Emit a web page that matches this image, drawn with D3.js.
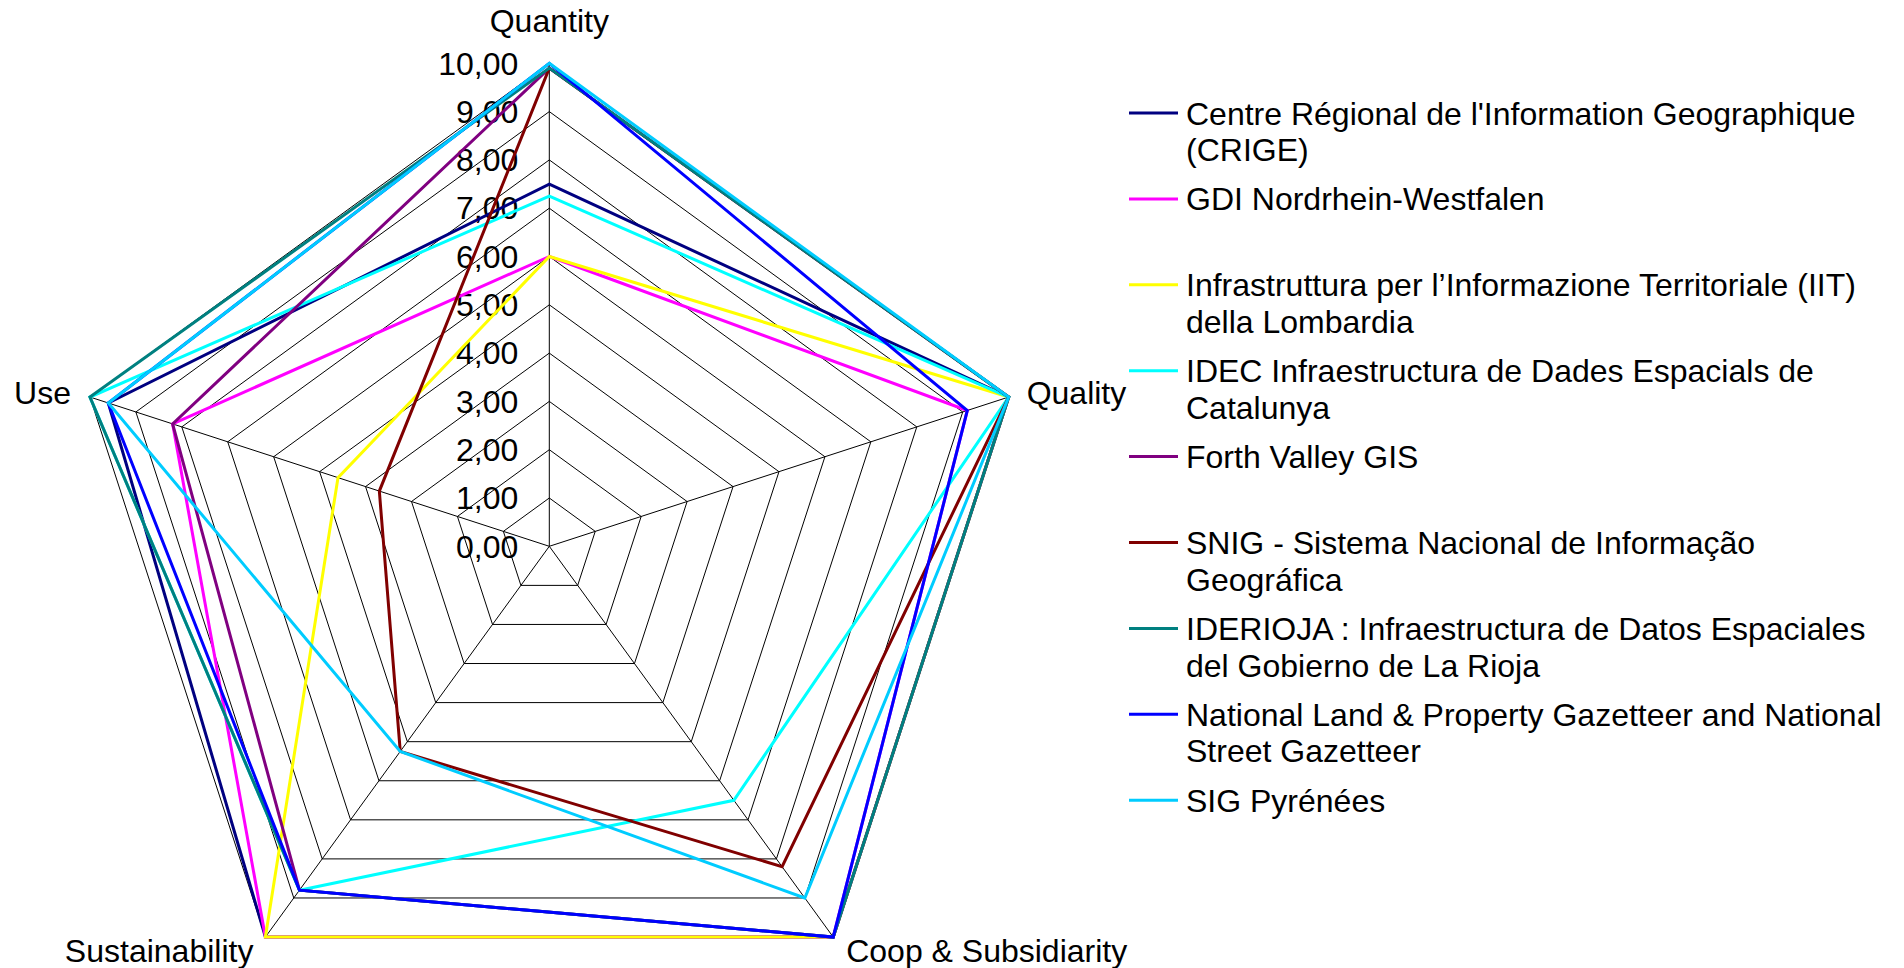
<!DOCTYPE html>
<html>
<head>
<meta charset="utf-8">
<script src="https://cdn.jsdelivr.net/npm/d3@7"></script>
<style>
  body { margin: 0; background: #fff; }
  text { font-family: 'Liberation Sans', Arial, sans-serif; font-size: 32px; fill: #000; }
</style>
</head>
<body>
<svg id="radar"></svg>
<script>
const axes = ['Quantity', 'Quality', 'Coop & Subsidiarity', 'Sustainability', 'Use'];
const tickValues = [0, 1, 2, 3, 4, 5, 6, 7, 8, 9, 10];

const seriesNames = [
  'Centre Régional de l\'Information Geographique (CRIGE)',
  'GDI Nordrhein-Westfalen',
  'Infrastruttura per l’Informazione Territoriale (IIT) della Lombardia',
  'IDEC Infraestructura de Dades Espacials de Catalunya',
  'Forth Valley GIS',
  'SNIG - Sistema Nacional de Informação Geográfica',
  'IDERIOJA : Infraestructura de Datos Espaciales del Gobierno de La Rioja',
  'National Land & Property Gazetteer and National Street Gazetteer',
  'SIG Pyrénées',
];

// values in axis order: Quantity, Quality, Coop, Sustainability, Use
const crige = [7.5, 10, 10, 10, 9.6];
const gdiNrw = [6, 9.1, 10, 10, 8.2];
const iitLombardia = [6, 10, 10, 10, 4.6];
const idecCatalunya = [7.25, 10, 6.5, 8.8, 10];
const forthValley = [9.9, 10, 10, 8.8, 8.2];
const snig = [9.9, 10, 8.2, 5.25, 3.7];
const iderioja = [9.9, 10, 10, 8.8, 10];
const nlpg = [10, 9.1, 10, 8.8, 9.6];
const sigPyrenees = [10, 10, 9, 5.25, 9.6];

const seriesValues = [crige, gdiNrw, iitLombardia, idecCatalunya, forthValley,
  snig, iderioja, nlpg, sigPyrenees];

const colors = ['#000080', '#FF00FF', '#FFFF00', '#00FFFF', '#800080',
  '#800000', '#008080', '#0000FF', '#00CCFF'];

const svgWidth = 1904;
const svgHeight = 968;
const cx = 549.3;
const cy = 546.3;
const radius = 483;

const svg = d3.select('#radar')
  .attr('width', svgWidth)
  .attr('height', svgHeight);

const g = svg.append('g').attr('transform', `translate(${cx},${cy})`);

const r = d3.scaleLinear().domain([0, 10]).range([0, radius]);
const angle = i => (i * 2 * Math.PI) / axes.length;
const z = d3.scaleOrdinal().domain(seriesNames).range(colors);
const fmt = d3.formatLocale({
  decimal: ',', thousands: '.', grouping: [3], currency: ['', '€'],
}).format('.2f');

const radar = d3.lineRadial()
  .angle((d, i) => angle(i))
  .radius(d => r(d))
  .curve(d3.curveLinearClosed);

const point = (i, v) => [r(v) * Math.sin(angle(i)), -r(v) * Math.cos(angle(i))];

// rings
g.append('g')
  .selectAll('path')
  .data(tickValues.filter(t => t > 0))
  .enter()
  .append('path')
  .attr('d', t => radar(axes.map(() => t)))
  .attr('fill', 'none')
  .attr('stroke', '#000')
  .attr('stroke-width', 1);

// spokes
g.append('g')
  .selectAll('line')
  .data(axes)
  .enter()
  .append('line')
  .attr('x1', 0)
  .attr('y1', 0)
  .attr('x2', (d, i) => point(i, 10)[0])
  .attr('y2', (d, i) => point(i, 10)[1])
  .attr('stroke', '#000')
  .attr('stroke-width', 1);

// tick labels on the Quantity axis
g.append('g')
  .attr('text-anchor', 'end')
  .selectAll('text')
  .data(tickValues)
  .enter()
  .append('text')
  .attr('x', -31)
  .attr('y', t => -r(t))
  .attr('dy', '0.35em')
  .text(t => fmt(t));

// series
g.append('g')
  .selectAll('path')
  .data(seriesValues)
  .enter()
  .append('path')
  .attr('d', d => radar(d))
  .attr('fill', 'none')
  .attr('stroke', (d, i) => z(seriesNames[i]))
  .attr('stroke-width', 3)
  .attr('stroke-linejoin', 'miter');

// axis labels
const labelPlace = [
  { anchor: 'middle', dx: 0, dy: -31 },
  { anchor: 'start', dx: 18, dy: 7 },
  { anchor: 'start', dx: 13, dy: 25 },
  { anchor: 'end', dx: -12, dy: 25 },
  { anchor: 'end', dx: -19, dy: 7 },
];

g.append('g')
  .selectAll('text')
  .data(axes)
  .enter()
  .append('text')
  .attr('text-anchor', (d, i) => labelPlace[i].anchor)
  .attr('x', (d, i) => point(i, 10)[0] + labelPlace[i].dx)
  .attr('y', (d, i) => point(i, 10)[1] + labelPlace[i].dy)
  .text(d => d);

// legend
const legendX = 1129;
const legendY = 113;
const legendStep = 85.9;
const lineHeight = 36.7;
const wrapWidth = 712;

const legend = svg.append('g')
  .selectAll('g')
  .data(seriesNames)
  .enter()
  .append('g')
  .attr('transform', (d, i) => `translate(${legendX},${legendY + legendStep * i})`);

legend.append('line')
  .attr('x1', 0)
  .attr('x2', 49)
  .attr('stroke', z)
  .attr('stroke-width', 3);

legend.append('text')
  .attr('x', 57)
  .attr('y', 11.5)
  .each(function (d) {
    const text = d3.select(this);
    const words = d.split(' ');
    let line = [];
    let lineNo = 0;
    let tspan = text.append('tspan').attr('x', 57).attr('dy', 0);
    words.forEach((w) => {
      line.push(w);
      tspan.text(line.join(' '));
      if (tspan.node().getComputedTextLength() > wrapWidth && line.length > 1) {
        line.pop();
        tspan.text(line.join(' '));
        line = [w];
        lineNo += 1;
        tspan = text.append('tspan').attr('x', 57).attr('dy', lineHeight).text(w);
      }
    });
  });
</script>
</body>
</html>
